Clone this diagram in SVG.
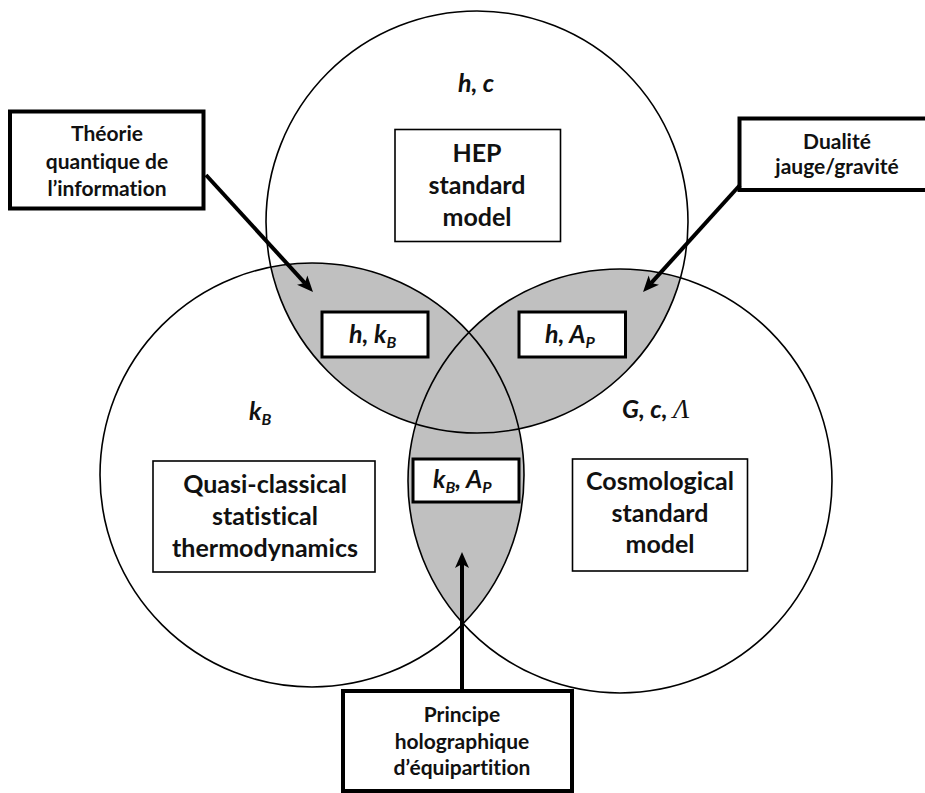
<svg xmlns="http://www.w3.org/2000/svg" width="925" height="793" viewBox="0 0 925 793">
<style>
text{font-variant-ligatures:none}
.circ{fill:none;stroke:#000;stroke-width:1.6}
.gray{fill:#c0c0c0;stroke:none}
.box{fill:#fff;stroke:#000;stroke-width:1.6}
.tbox{fill:#fff;stroke:#000;stroke-width:4}
.sbox{fill:#fff;stroke:#000;stroke-width:3}
.big{font-family:Lato,"Liberation Sans",sans-serif;font-weight:700;font-size:25px;text-anchor:middle;fill:#111}
.small{font-family:Lato,"Liberation Sans",sans-serif;font-weight:700;font-size:21px;text-anchor:middle;fill:#111}
.it{font-family:Lato,"Liberation Sans",sans-serif;font-weight:700;font-style:italic;font-size:25px;fill:#111}
.sub{font-size:16px}
.lam{font-family:"Liberation Serif",serif;font-weight:400;font-style:italic;font-size:27px}
.arr{stroke:#000;stroke-width:4;fill:none;marker-end:url(#ah)}
</style>
<defs>
<clipPath id="cT"><circle cx="477" cy="222" r="211"/></clipPath>
<clipPath id="cL"><circle cx="312" cy="475" r="212"/></clipPath>
<marker id="ah" markerUnits="userSpaceOnUse" markerWidth="18" markerHeight="16" refX="4" refY="7" orient="auto" overflow="visible">
<path d="M0,0 L16,7 L0,14 L4,7 z" fill="#000"/>
</marker>
</defs>
<rect width="925" height="793" fill="#fff"/>
<g id="overlaps">
<circle class="gray" cx="312" cy="475" r="212" clip-path="url(#cT)"/>
<circle class="gray" cx="620" cy="481" r="212" clip-path="url(#cT)"/>
<circle class="gray" cx="620" cy="481" r="212" clip-path="url(#cL)"/>
</g>
<g id="circle-top"><circle class="circ" cx="477" cy="222" r="211"/></g>
<g id="circle-left"><circle class="circ" cx="312" cy="475" r="212"/></g>
<g id="circle-right"><circle class="circ" cx="620" cy="481" r="212"/></g>

<g id="label-hc"><text class="it" x="476" y="92" text-anchor="middle">h, c</text></g>
<g id="hep">
<rect class="box" x="395" y="129.5" width="165.5" height="112"/>
<text class="big" x="477" y="162">HEP</text>
<text class="big" x="477" y="194">standard</text>
<text class="big" x="477" y="226">model</text>
</g>

<g id="label-kb"><text class="it" x="249" y="420">k<tspan class="sub" dy="5">B</tspan></text></g>
<g id="quasi">
<rect class="box" x="153" y="461" width="222" height="111"/>
<text class="big" x="265" y="493">Quasi-classical</text>
<text class="big" x="265" y="525">statistical</text>
<text class="big" x="265" y="557">thermodynamics</text>
</g>

<g id="label-gcl"><text class="it" x="622" y="418">G, c, <tspan class="lam">Λ</tspan></text></g>
<g id="cosmo">
<rect class="box" x="572.5" y="459" width="175" height="112"/>
<text class="big" x="660" y="490">Cosmological</text>
<text class="big" x="660" y="522">standard</text>
<text class="big" x="660" y="553">model</text>
</g>

<g id="hkb">
<rect class="sbox" x="322" y="312" width="106" height="45"/>
<text class="it" x="349" y="343">h, k<tspan class="sub" dy="5">B</tspan></text>
</g>
<g id="hap">
<rect class="sbox" x="519" y="312" width="106.5" height="45"/>
<text class="it" x="545" y="343">h, A<tspan class="sub" dy="5">P</tspan></text>
</g>
<g id="kbap">
<rect class="sbox" x="413" y="459" width="106" height="43"/>
<text class="it" x="433" y="488">k<tspan class="sub" dy="5">B</tspan><tspan dy="-5">, A</tspan><tspan class="sub" dy="5">P</tspan></text>
</g>

<g id="theorie">
<rect class="tbox" x="10" y="111.5" width="193.5" height="97"/>
<text class="small" x="107" y="141">Théorie</text>
<text class="small" x="107" y="168.5">quantique de</text>
<text class="small" x="107" y="196">l’information</text>
</g>
<g id="dualite">
<rect class="tbox" x="739.5" y="118.5" width="200" height="71.5"/>
<text class="small" x="837" y="148.5">Dualité</text>
<text class="small" x="837" y="173.5">jauge/gravité</text>
</g>
<g id="principe">
<rect class="tbox" x="343" y="691" width="229" height="100"/>
<text class="small" x="462" y="722">Principe</text>
<text class="small" x="462" y="748.5">holographique</text>
<text class="small" x="462" y="775">d’équipartition</text>
</g>

<g id="connectors">
<line class="arr" x1="206" y1="175" x2="304.9" y2="283.1"/>
<line class="arr" x1="740" y1="185" x2="651.1" y2="283.1"/>
<line class="arr" x1="462" y1="691" x2="462" y2="564"/>
</g>
</svg>
